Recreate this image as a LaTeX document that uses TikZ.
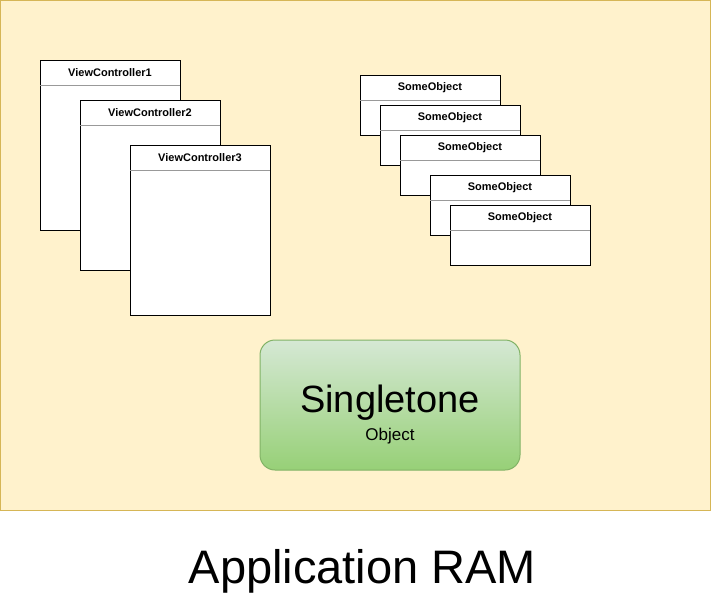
\documentclass[tikz,border=0pt]{standalone}
\usepackage{fontspec}
\setmainfont{Liberation Sans}
\definecolor{memfill}{HTML}{FFF2CC}
\definecolor{memdraw}{HTML}{D6B656}
\definecolor{gtop}{HTML}{D5E8D4}
\definecolor{gbot}{HTML}{97D077}
\definecolor{gdraw}{HTML}{82B366}
\tikzset{
  classbox/.style={draw=black, fill=white, line width=0.75pt, anchor=north west, inner sep=0pt, outer sep=0pt},
  vcsize/.style={minimum width=105pt, minimum height=127.5pt},
  objsize/.style={minimum width=105pt, minimum height=45pt},
  classtitle/.style={font=\bfseries\fontsize{8.25}{10}\selectfont, anchor=center, inner sep=0pt},
  sepline/.style={draw=black!40, line width=0.75pt}
}
\newcommand{\mkclass}[5]{%
  \node[classbox, #5] (#1) at (#2,#3) {};
  \draw[sepline] ([yshift=-18.75pt]#1.north west) -- ([yshift=-18.75pt]#1.north east);
  \node[classtitle] (#1t) at ([yshift=-9.6pt]#1.north) {#4};
}
\begin{document}
\begin{tikzpicture}[x=0.75pt, y=-0.75pt]
\useasboundingbox (0,0) rectangle (711,601);
\node[draw=memdraw, fill=memfill, line width=0.75pt, anchor=north west, inner sep=0pt, outer sep=0pt, minimum width=532.5pt, minimum height=382.5pt] (ram) at (0.5,0.5) {};

\mkclass{vc1}{40}{60}{ViewController1}{vcsize}
\mkclass{vc2}{80}{100}{ViewController2}{vcsize}
\mkclass{vc3}{130}{145}{ViewController3}{vcsize}

\mkclass{so1}{360}{75}{SomeObject}{objsize}
\mkclass{so2}{380}{105}{SomeObject}{objsize}
\mkclass{so3}{400}{135}{SomeObject}{objsize}
\mkclass{so4}{430}{175}{SomeObject}{objsize}
\mkclass{so5}{450}{205}{SomeObject}{objsize}

\node[draw=gdraw, top color=gtop, bottom color=gbot, line width=0.75pt, rounded corners=11.25pt, anchor=north west, inner sep=0pt, outer sep=0pt, minimum width=195pt, minimum height=97.5pt] (single) at (260,340) {};
\node[anchor=base, inner sep=0pt, font=\fontsize{28.5}{30}\selectfont] (singlet) at (390,412) {Singletone};
\node[anchor=base, inner sep=0pt, font=\fontsize{12.75}{14}\selectfont] (singles) at (390,440) {Object};

\node[anchor=base, inner sep=0pt, font=\fontsize{35.25}{38}\selectfont] (ramt) at (362.5,583) {Application RAM};
\end{tikzpicture}
\end{document}
